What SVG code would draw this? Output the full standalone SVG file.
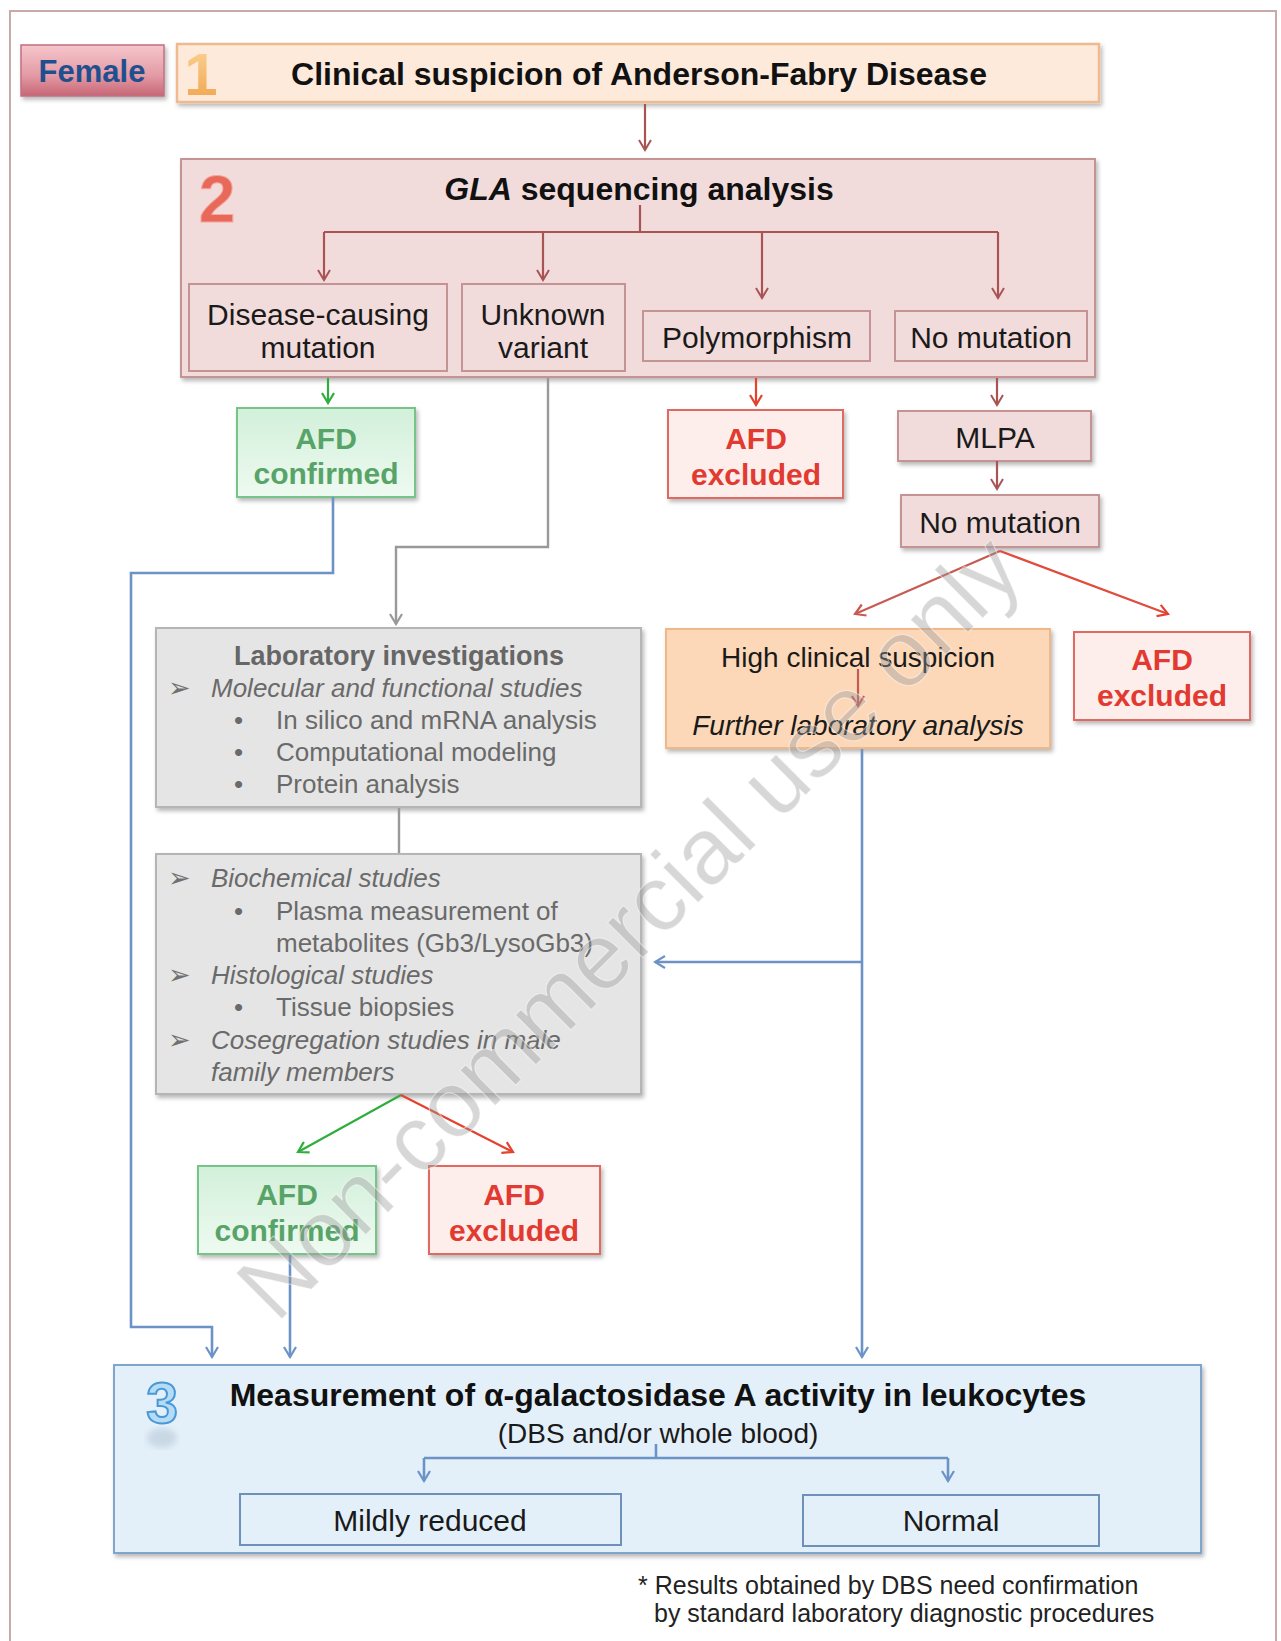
<svg xmlns="http://www.w3.org/2000/svg" width="1281" height="1641" viewBox="0 0 1281 1641">
<style>
text{font-family:"Liberation Sans",Arial,sans-serif}
.t{font-size:32px;font-weight:bold;fill:#111;text-anchor:middle}
.s{font-size:30px;fill:#1a1a1a;text-anchor:middle}
.afdg{font-size:30px;font-weight:bold;fill:#58a468;text-anchor:middle}
.afdr{font-size:30px;font-weight:bold;fill:#e23a30;text-anchor:middle}
.lab{font-size:26px;fill:#6a6a6a}
.labi{font-size:26px;fill:#6a6a6a;font-style:italic}
.arr{font-family:"DejaVu Sans",sans-serif;font-size:27px;fill:#707070}
.pk{fill:#f2dcdb;stroke:#c49494;stroke-width:2}
.gr{fill:url(#gGreen);stroke:#78c488;stroke-width:2}
.rd{fill:#fdeeec;stroke:#e06a62;stroke-width:2}
.gy{fill:#e5e5e5;stroke:#b5b5b5;stroke-width:2}
.bl{fill:#e4f0f9;stroke:#7fa5cc;stroke-width:2}
.c{fill:none;stroke-width:2.2}
.br{stroke:#a85454}
.bu{stroke:#6b93c6;stroke-width:2.6}
.gc{stroke:#999999;stroke-width:2.4}
</style>
<defs>
<filter id="sh" x="-5%" y="-5%" width="112%" height="120%">
<feDropShadow dx="2" dy="3" stdDeviation="2" flood-color="#000" flood-opacity="0.28"/>
</filter>
<filter id="blur3"><feGaussianBlur stdDeviation="3"/></filter>
<linearGradient id="gFem" x1="0" y1="0" x2="0" y2="1">
<stop offset="0" stop-color="#f6c6cc"/><stop offset="0.6" stop-color="#e39aa4"/><stop offset="1" stop-color="#c76676"/>
</linearGradient>
<linearGradient id="gGreen" x1="0" y1="0" x2="0" y2="1">
<stop offset="0" stop-color="#d2f0da"/><stop offset="1" stop-color="#eefaf1"/>
</linearGradient>
<linearGradient id="gOne" x1="0" y1="0" x2="0" y2="1">
<stop offset="0" stop-color="#fbd79a"/><stop offset="1" stop-color="#f0a048"/>
</linearGradient>
<marker id="mBr" viewBox="0 0 14 14" refX="12" refY="7" markerWidth="14" markerHeight="14" markerUnits="userSpaceOnUse" orient="auto"><path d="M2,1 L12,7 L2,13" fill="none" stroke="#a85454" stroke-width="2"/></marker>
<marker id="mGr" viewBox="0 0 14 14" refX="12" refY="7" markerWidth="14" markerHeight="14" markerUnits="userSpaceOnUse" orient="auto"><path d="M2,1 L12,7 L2,13" fill="none" stroke="#2fae3e" stroke-width="2.2"/></marker>
<marker id="mRd" viewBox="0 0 14 14" refX="12" refY="7" markerWidth="14" markerHeight="14" markerUnits="userSpaceOnUse" orient="auto"><path d="M2,1 L12,7 L2,13" fill="none" stroke="#e4412f" stroke-width="2.2"/></marker>
<marker id="mRd2" viewBox="0 0 14 14" refX="12" refY="7" markerWidth="14" markerHeight="14" markerUnits="userSpaceOnUse" orient="auto"><path d="M2,1 L12,7 L2,13" fill="none" stroke="#c95a52" stroke-width="2.2"/></marker>
<marker id="mGy" viewBox="0 0 14 14" refX="12" refY="7" markerWidth="14" markerHeight="14" markerUnits="userSpaceOnUse" orient="auto"><path d="M2,1 L12,7 L2,13" fill="none" stroke="#999999" stroke-width="2.2"/></marker>
<marker id="mBu" viewBox="0 0 14 14" refX="12" refY="7" markerWidth="14" markerHeight="14" markerUnits="userSpaceOnUse" orient="auto"><path d="M2,1 L12,7 L2,13" fill="none" stroke="#6b93c6" stroke-width="2.2"/></marker>
</defs>

<rect x="0" y="0" width="1281" height="1641" fill="#ffffff"/>
<rect id="frame" x="10" y="11" width="1266" height="1645" fill="none" stroke="#caa9a9" stroke-width="2"/>

<g id="female">
<rect x="21" y="45" width="143" height="51" fill="url(#gFem)" stroke="#c07080" stroke-width="1.5" filter="url(#sh)"/>
<text x="92" y="82" style="font-size:31px;font-weight:bold;fill:#1f4f8f;text-anchor:middle">Female</text>
</g>

<g id="step1">
<rect x="177" y="44" width="922" height="58" fill="#fdeadb" stroke="#eebb90" stroke-width="2.5" filter="url(#sh)"/>
<text x="201" y="95" style="font-size:60px;font-weight:bold;fill:url(#gOne);text-anchor:middle">1</text>
<text class="t" x="639" y="85">Clinical suspicion of Anderson-Fabry Disease</text>
</g>

<g id="step2">
<rect x="181" y="159" width="914" height="218" class="pk" filter="url(#sh)"/>
<text x="217" y="222" style="font-size:66px;font-weight:bold;fill:#e8685a;stroke:#f4a89e;stroke-width:1;text-anchor:middle">2</text>
<text class="t" x="639" y="200"><tspan font-style="italic">GLA</tspan> sequencing analysis</text>
</g>

<g id="disease-causing">
<rect x="189" y="284" width="258" height="87" class="pk"/>
<text class="s" x="318" y="325">Disease-causing</text>
<text class="s" x="318" y="358">mutation</text>
</g>
<g id="unknown-variant">
<rect x="462" y="284" width="163" height="87" class="pk"/>
<text class="s" x="543" y="325">Unknown</text>
<text class="s" x="543" y="358">variant</text>
</g>
<g id="polymorphism">
<rect x="643" y="311" width="227" height="50" class="pk"/>
<text class="s" x="757" y="348">Polymorphism</text>
</g>
<g id="no-mutation-1">
<rect x="895" y="311" width="192" height="50" class="pk"/>
<text class="s" x="991" y="348">No mutation</text>
</g>

<g id="afd-confirmed-1">
<rect x="237" y="408" width="178" height="89" class="gr" filter="url(#sh)"/>
<text class="afdg" x="326" y="449">AFD</text>
<text class="afdg" x="326" y="484">confirmed</text>
</g>
<g id="afd-excluded-1">
<rect x="668" y="410" width="175" height="88" class="rd" filter="url(#sh)"/>
<text class="afdr" x="756" y="449">AFD</text>
<text class="afdr" x="756" y="485">excluded</text>
</g>
<g id="mlpa">
<rect x="898" y="411" width="193" height="50" class="pk" filter="url(#sh)"/>
<text class="s" x="995" y="448">MLPA</text>
</g>
<g id="no-mutation-2">
<rect x="901" y="495" width="198" height="52" class="pk" filter="url(#sh)"/>
<text class="s" x="1000" y="533">No mutation</text>
</g>

<g id="high-clinical">
<rect x="666" y="629" width="384" height="119" fill="#fcd8b8" stroke="#f0b888" stroke-width="2" filter="url(#sh)"/>
<text x="858" y="667" style="font-size:28px;fill:#1a1a1a;text-anchor:middle">High clinical suspicion</text>
<text x="858" y="735" style="font-size:28px;fill:#1a1a1a;text-anchor:middle;font-style:italic">Further laboratory analysis</text>
</g>
<g id="afd-excluded-2">
<rect x="1074" y="632" width="176" height="88" class="rd" filter="url(#sh)"/>
<text class="afdr" x="1162" y="670">AFD</text>
<text class="afdr" x="1162" y="706">excluded</text>
</g>

<g id="lab-1">
<rect x="156" y="628" width="485" height="179" class="gy" filter="url(#sh)"/>
<text x="399" y="665" style="font-size:27px;font-weight:bold;fill:#666;text-anchor:middle">Laboratory investigations</text>
<text class="arr" x="168" y="697">➢</text>
<text class="labi" x="211" y="697">Molecular and functional studies</text>
<text class="lab" x="234" y="729">•</text><text class="lab" x="276" y="729">In silico and mRNA analysis</text>
<text class="lab" x="234" y="761">•</text><text class="lab" x="276" y="761">Computational modeling</text>
<text class="lab" x="234" y="793">•</text><text class="lab" x="276" y="793">Protein analysis</text>
</g>

<g id="lab-2">
<rect x="156" y="854" width="485" height="240" class="gy" filter="url(#sh)"/>
<text class="arr" x="168" y="887">➢</text>
<text class="labi" x="211" y="887">Biochemical studies</text>
<text class="lab" x="234" y="920">•</text><text class="lab" x="276" y="920">Plasma measurement of</text>
<text class="lab" x="276" y="952">metabolites (Gb3/LysoGb3)</text>
<text class="arr" x="168" y="984">➢</text>
<text class="labi" x="211" y="984">Histological studies</text>
<text class="lab" x="234" y="1016">•</text><text class="lab" x="276" y="1016">Tissue biopsies</text>
<text class="arr" x="168" y="1049">➢</text>
<text class="labi" x="211" y="1049">Cosegregation studies in male</text>
<text class="labi" x="211" y="1081">family members</text>
</g>

<g id="afd-confirmed-2">
<rect x="198" y="1166" width="178" height="88" class="gr" filter="url(#sh)"/>
<text class="afdg" x="287" y="1205">AFD</text>
<text class="afdg" x="287" y="1241">confirmed</text>
</g>
<g id="afd-excluded-2b">
<rect x="429" y="1166" width="171" height="88" class="rd" filter="url(#sh)"/>
<text class="afdr" x="514" y="1205">AFD</text>
<text class="afdr" x="514" y="1241">excluded</text>
</g>

<g id="step3">
<rect x="114" y="1365" width="1087" height="188" class="bl" filter="url(#sh)"/>
<ellipse cx="162" cy="1438" rx="15" ry="10" fill="#a9bccd" opacity="0.45" filter="url(#blur3)"/>
<text x="162" y="1423" style="font-size:57px;font-weight:bold;fill:#b4dcf6;stroke:#4a98d6;stroke-width:2;text-anchor:middle">3</text>
<text class="t" x="658" y="1406">Measurement of α-galactosidase A activity in leukocytes</text>
<text x="658" y="1443" style="font-size:28px;fill:#1a1a1a;text-anchor:middle">(DBS and/or whole blood)</text>
</g>
<g id="mildly-reduced">
<rect x="240" y="1494" width="381" height="51" fill="#e4f0f9" stroke="#6f90bb" stroke-width="2"/>
<text class="s" x="430" y="1531">Mildly reduced</text>
</g>
<g id="normal">
<rect x="803" y="1495" width="296" height="51" fill="#e4f0f9" stroke="#6f90bb" stroke-width="2"/>
<text class="s" x="951" y="1531">Normal</text>
</g>

<g id="connectors">
<path class="c br" d="M645,104 L645,150" marker-end="url(#mBr)"/>
<path class="c br" d="M640,205 L640,232 M324,232 L998,232"/>
<path class="c br" d="M324,232 L324,280" marker-end="url(#mBr)"/>
<path class="c br" d="M543,232 L543,280" marker-end="url(#mBr)"/>
<path class="c br" d="M762,232 L762,298" marker-end="url(#mBr)"/>
<path class="c br" d="M998,232 L998,298" marker-end="url(#mBr)"/>
<path class="c" stroke="#2fae3e" d="M328,378 L328,403" marker-end="url(#mGr)"/>
<path class="c" stroke="#e4412f" d="M756,378 L756,405" marker-end="url(#mRd)"/>
<path class="c br" d="M997,378 L997,405" marker-end="url(#mBr)"/>
<path class="c br" d="M997,461 L997,489" marker-end="url(#mBr)"/>
<path class="c" stroke="#c95a52" stroke-width="2.8" d="M1000,551 L855,614" marker-end="url(#mRd2)"/>
<path class="c" stroke="#e24a3c" stroke-width="2.8" d="M1000,551 L1168,614" marker-end="url(#mRd)"/>
<path class="c" stroke="#c95a52" d="M858,669 L858,706" marker-end="url(#mRd2)"/>
<path class="c gc" d="M548,378 L548,547 L396,547 L396,624" marker-end="url(#mGy)"/>
<path class="c gc" d="M399,808 L399,853"/>
<path class="c bu" d="M333,497 L333,573 L131,573 L131,1327 L212,1327 L212,1357" marker-end="url(#mBu)"/>
<path class="c bu" d="M290,1255 L290,1357" marker-end="url(#mBu)"/>
<path class="c bu" d="M862,749 L862,1357" marker-end="url(#mBu)"/>
<path class="c bu" d="M862,962 L655,962" marker-end="url(#mBu)"/>
<path class="c" stroke="#2fae3e" d="M401,1095 L298,1152" marker-end="url(#mGr)"/>
<path class="c" stroke="#e4412f" d="M401,1095 L513,1152" marker-end="url(#mRd)"/>
<path class="c bu" d="M656,1444 L656,1458 M424,1458 L948,1458"/>
<path class="c bu" d="M424,1458 L424,1481" marker-end="url(#mBu)"/>
<path class="c bu" d="M948,1458 L948,1481" marker-end="url(#mBu)"/>
</g>

<g id="footnote">
<text x="638" y="1594" style="font-size:25px;fill:#222">* Results obtained by DBS need confirmation</text>
<text x="654" y="1622" style="font-size:25px;fill:#222">by standard laboratory diagnostic procedures</text>
</g>

<g id="watermark">
<text x="0" y="33" transform="translate(628,926) rotate(-45)" style="font-size:94px;fill:#9a9a9a;fill-opacity:0.4;stroke:#ffffff;stroke-opacity:0.5;stroke-width:1;text-anchor:middle">Non-commercial use only</text>
</g>
</svg>
